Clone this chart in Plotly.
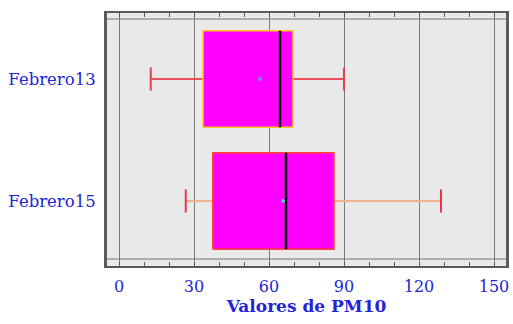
import plotly.graph_objects as go

# PM10 summary statistics per period
categories = ["Febrero13", "Febrero15"]
positions = [1, 0]
lower_whisker = [12.7, 26.7]
q1 = [33.6, 37.5]
median = [64.4, 66.8]
q3 = [69.6, 86.0]
upper_whisker = [90.0, 128.8]
means = [56.4, 65.7]

x_ticks = [0, 30, 60, 90, 120, 150]

box_fill = "#FF00FF"
box_edge = ["#FFC81E", "#FF4A2A"]
whisker_color = ["#E8505A", "#F5B090"]
cap_color = ["#E8404A", "#E83848"]
mean_color = ["#7A8AE0", "#40D0D0"]
label_blue = "#2323D8"
serif = "DejaVu Serif"

half_h = 0.395
cap_h = 0.095

fig = go.Figure()
for i, name in enumerate(categories):
    y = positions[i]
    # whiskers
    fig.add_trace(go.Scatter(
        x=[lower_whisker[i], q1[i], None, q3[i], upper_whisker[i]],
        y=[y, y, None, y, y], mode="lines",
        line=dict(color=whisker_color[i], width=2), hoverinfo="skip", showlegend=False))
    # caps
    fig.add_trace(go.Scatter(
        x=[lower_whisker[i], lower_whisker[i], None, upper_whisker[i], upper_whisker[i]],
        y=[y - cap_h, y + cap_h, None, y - cap_h, y + cap_h], mode="lines",
        line=dict(color=cap_color[i], width=2), hoverinfo="skip", showlegend=False))
    # box
    fig.add_trace(go.Scatter(
        x=[q1[i], q3[i], q3[i], q1[i], q1[i]],
        y=[y - half_h, y - half_h, y + half_h, y + half_h, y - half_h],
        mode="lines", fill="toself", fillcolor=box_fill,
        line=dict(color=box_edge[i], width=1.5), name=name, showlegend=False))
    # median
    fig.add_trace(go.Scatter(
        x=[median[i], median[i]], y=[y - half_h, y + half_h], mode="lines",
        line=dict(color="#000000", width=2.5), hoverinfo="skip", showlegend=False))
    # mean
    fig.add_trace(go.Scatter(
        x=[means[i]], y=[y], mode="markers",
        marker=dict(color=mean_color[i], size=4), showlegend=False))

# inner frame lines near the top and bottom edges
for yp in (0.976, 0.028):
    fig.add_shape(type="line", xref="paper", yref="paper", x0=0, x1=1, y0=yp, y1=yp,
                  line=dict(color="#9A9A9A", width=1.5), layer="below")

fig.update_layout(
    width=513, height=324,
    margin=dict(l=107, r=7, t=13, b=58),
    paper_bgcolor="white", plot_bgcolor="#E9E9E9",
    font=dict(family=serif, color=label_blue),
)
fig.update_xaxes(
    range=[-4.8, 154.8], tickvals=x_ticks, ticktext=[str(v) for v in x_ticks],
    showgrid=True, gridcolor="#7A7A7A", gridwidth=1.2, zeroline=False,
    showline=True, mirror="allticks", linecolor="#5A5A5A", linewidth=2,
    ticks="inside", ticklen=4, tickcolor="#5A5A5A",
    minor=dict(dtick=10, tick0=0, ticks="inside", ticklen=4, tickcolor="#5A5A5A", showgrid=False),
    tickfont=dict(size=16, color=label_blue, family=serif),
    ticklabelstandoff=5, automargin=False,
    title=dict(text="<b>Valores de PM10</b>", font=dict(size=17, color=label_blue, family=serif),
               standoff=4),
)
fig.update_yaxes(
    range=[-0.533, 1.541], tickvals=positions, ticktext=categories,
    showgrid=False, zeroline=False, automargin=False,
    showline=True, mirror=True, linecolor="#5A5A5A", linewidth=3,
    ticks="", tickfont=dict(size=16.5, color=label_blue, family=serif),
    ticklabelstandoff=5,
)

fig.write_html("out.html")
